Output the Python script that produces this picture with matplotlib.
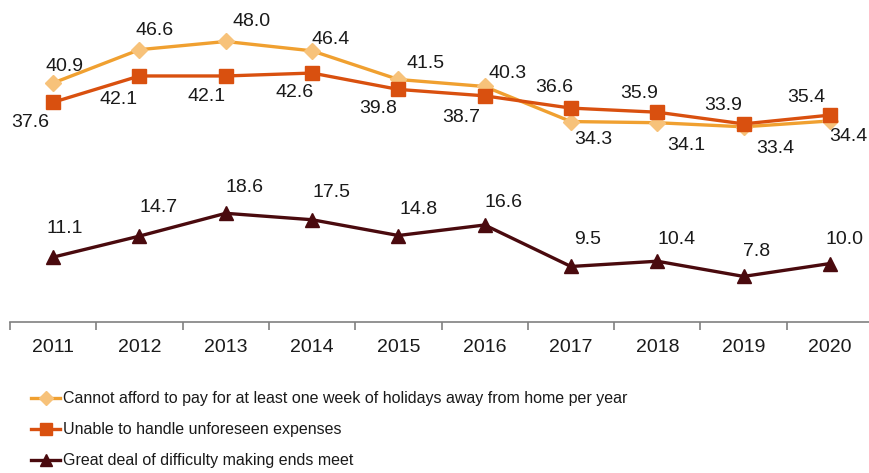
import matplotlib
matplotlib.use("Agg")
import matplotlib.pyplot as plt

years = ["2011", "2012", "2013", "2014", "2015", "2016", "2017", "2018", "2019", "2020"]
holidays = [40.9, 46.6, 48.0, 46.4, 41.5, 40.3, 34.3, 34.1, 33.4, 34.4]
unforeseen = [37.6, 42.1, 42.1, 42.6, 39.8, 38.7, 36.6, 35.9, 33.9, 35.4]
difficulty = [11.1, 14.7, 18.6, 17.5, 14.8, 16.6, 9.5, 10.4, 7.8, 10.0]

names = ["Cannot afford to pay for at least one week of holidays away from home per year",
         "Unable to handle unforeseen expenses",
         "Great deal of difficulty making ends meet"]

# label offsets in pixels (dx, dy up)
off_hol = [(11, 16), (15, 19), (26, 20), (19, 11), (27, 16), (23, 13), (22, -18), (29, -23), (32, -22), (18, -16)]
off_unf = [(-23, -20), (-21, -24), (-19, -21), (-17, -19), (-20, -19), (-23, -22), (-17, 21), (-18, 19), (-20, 18), (-24, 18)]
off_dif = [(12, 29), (19, 29), (19, 26), (19, 27), (20, 26), (19, 22), (17, 27), (19, 22), (13, 25), (15, 24)]

plt.rcParams["font.family"] = ["Liberation Sans", "DejaVu Sans"]

fig = plt.figure(figsize=(8.7, 4.73), dpi=100)
ax = fig.add_axes([10 / 870, 151 / 473, 863 / 870, 322 / 473])

x = list(range(len(years)))
ax.plot(x, holidays, color="#F0A030", lw=2.4, marker="D", ms=8.5,
        mfc="#F7C27A", mec="#F7C27A", label=names[0], zorder=3)
ax.plot(x, unforeseen, color="#D9500F", lw=2.4, marker="s", ms=9.5,
        mfc="#D9500F", mec="#D9500F", label=names[1], zorder=4)
ax.plot(x, difficulty, color="#4A0A0E", lw=2.4, marker="^", ms=9.5,
        mfc="#4A0A0E", mec="#4A0A0E", label=names[2], zorder=4)

for series, offs in ((holidays, off_hol), (unforeseen, off_unf), (difficulty, off_dif)):
    for i, v in enumerate(series):
        ax.annotate(f"{v:.1f}", (i, v), xytext=offs[i], textcoords="offset pixels",
                    ha="center", va="center", fontsize=14, color="#1a1a1a")

ax.set_xlim(-0.5, 9.5)
ax.set_ylim(0, 55.1)
for s in ("top", "right", "left"):
    ax.spines[s].set_visible(False)
ax.spines["bottom"].set_color("#808080")
ax.spines["bottom"].set_linewidth(1.2)
ax.set_yticks([])
ax.set_xticks(x)
ax.set_xticklabels(years, fontsize=14, color="#1a1a1a")
ax.tick_params(axis="x", which="major", length=0, pad=12)
ax.set_xticks([i - 0.5 for i in range(len(years) + 1)], minor=True)
ax.tick_params(axis="x", which="minor", length=6, width=1.2, color="#808080")

leg = fig.legend(loc="upper left", bbox_to_anchor=(25 / 870, 1 - 385 / 473), frameon=False,
                 handlelength=1.8, handletextpad=0.15, labelspacing=1.0, borderaxespad=0,
                 markerscale=0.85, prop={"size": 11.5})
for t in leg.get_texts():
    t.set_color("#1a1a1a")

fig.savefig("out.png", dpi=100)
